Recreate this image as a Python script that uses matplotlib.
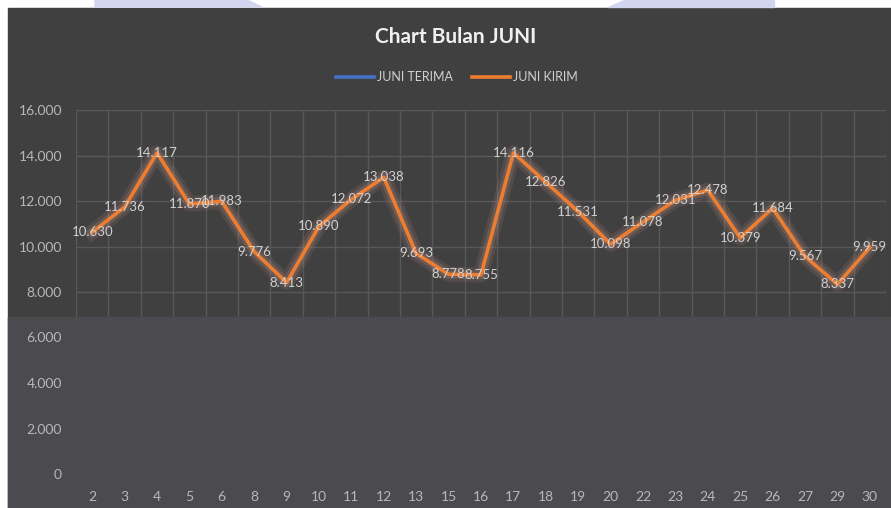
import matplotlib
matplotlib.use('Agg')
import matplotlib.pyplot as plt
from matplotlib.patches import Rectangle, Polygon
from matplotlib.ticker import FuncFormatter, MultipleLocator
from matplotlib.lines import Line2D

# data
tanggal = ['2', '3', '4', '5', '6', '8', '9', '10', '11', '12', '13', '15', '16',
           '17', '18', '19', '20', '22', '23', '24', '25', '26', '27', '29', '30']
juni_kirim = [10630, 11736, 14117, 11870, 11983, 9776, 8413, 10890, 12072, 13038,
              9693, 8778, 8755, 14116, 12826, 11531, 10098, 11078, 12031, 12478,
              10379, 11684, 9567, 8337, 9959]
juni_terima = []

W, H = 891, 508
plt.rcParams['font.family'] = ['Lato', 'DejaVu Sans']

fig = plt.figure(figsize=(W / 100, H / 100), dpi=100)
fig.patch.set_facecolor('white')


def px(x0, y0, x1, y1):
    # pixel box -> figure fraction (left, bottom, width, height)
    return x0 / W, 1 - y1 / H, (x1 - x0) / W, (y1 - y0) / H


# background pieces of the screenshot
l, b, w, h = px(8, 8, W, H)
fig.patches.append(Rectangle((l, b), w, h, transform=fig.transFigure,
                             color='#404040', zorder=-3))
l, b, w, h = px(8, 317, W, H)
fig.patches.append(Rectangle((l, b), w, h, transform=fig.transFigure,
                             color='#4a4a4f', zorder=-2))
for poly in ([(95, 0), (247, 0), (262, 7), (95, 7)],
             [(624, 0), (774, 0), (774, 7), (608, 7)]):
    fig.patches.append(Polygon([(x / W, 1 - y / H) for x, y in poly],
                               transform=fig.transFigure, color='#d2d5ee', zorder=-2))

ax = fig.add_axes(px(76, 110, 886, 474))
ax.set_facecolor('none')

x = list(range(len(tanggal)))
# glow under the line
ax.plot(x, juni_kirim, color='#a88276', lw=11, alpha=0.18, solid_joinstyle='round', zorder=2)
ax.plot(x, juni_kirim, color='#b38a7c', lw=6.5, alpha=0.25, solid_joinstyle='round', zorder=2)
ax.plot(x, juni_kirim, color='#ed7d31', lw=2.6, solid_joinstyle='round', zorder=3)
ax.plot(juni_terima, juni_terima, color='#4472c4', lw=2.6)

for xi, v in zip(x, juni_kirim):
    s = f'{v:,}'.replace(',', '.')
    ax.text(xi, v, s, ha='center', va='center', fontsize=9.5, color='#d0d0d0', zorder=4)

ax.set_xlim(-0.5, len(tanggal) - 0.5)
ax.set_ylim(0, 16000)
ax.set_xticks(x)
ax.set_xticklabels(tanggal)
ax.set_xticks([i - 0.5 for i in range(len(tanggal) + 1)], minor=True)
ax.yaxis.set_major_locator(MultipleLocator(2000))
ax.yaxis.set_major_formatter(FuncFormatter(lambda v, p: f'{int(v):,}'.replace(',', '.')))

ax.set_axisbelow(True)
ax.grid(axis='y', which='major', color='#585858', lw=1)
ax.grid(axis='x', which='minor', color='#585858', lw=1)
# lighter panel covering the lower part of the plot
ax.axhspan(0, 6900, color='#4a4a4f', alpha=0.9, zorder=1)

for s in ax.spines.values():
    s.set_visible(False)
ax.tick_params(which='both', length=0)
ax.tick_params(axis='x', colors='#b8b8b8', labelsize=10, pad=12)
ax.tick_params(axis='y', colors='#b8b8b8', labelsize=10, pad=10)

fig.text(456 / W, 1 - 37 / H, 'Chart Bulan JUNI', ha='center', va='center',
         fontsize=15, fontweight='bold', color='#f0f0f0')

handles = [Line2D([], [], color='#4472c4', lw=2.6),
           Line2D([], [], color='#ed7d31', lw=2.6)]
leg = fig.legend(handles, ['JUNI TERIMA', 'JUNI KIRIM'], loc='center',
                 bbox_to_anchor=(457 / W, 1 - 77 / H), ncol=2, frameon=False,
                 fontsize=9, handlelength=3, handletextpad=0.3, columnspacing=1.5)
for t in leg.get_texts():
    t.set_color('#d0d0d0')

fig.savefig('out.png', dpi=100)
